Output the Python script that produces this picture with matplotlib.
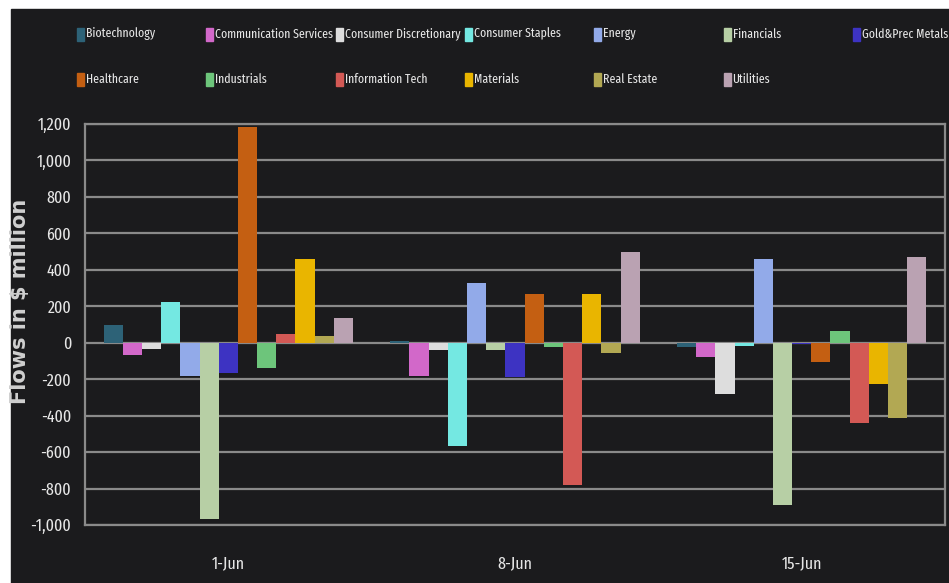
import matplotlib
matplotlib.use("Agg")
import matplotlib.pyplot as plt
import numpy as np
from matplotlib.patches import Rectangle
from matplotlib.ticker import FuncFormatter

# Weekly sector fund flows, $ million
weeks = ["1-Jun", "8-Jun", "15-Jun"]
sectors = ["Biotechnology", "Communication Services", "Consumer Discretionary",
           "Consumer Staples", "Energy", "Financials", "Gold&Prec Metals",
           "Healthcare", "Industrials", "Information Tech", "Materials",
           "Real Estate", "Utilities"]
colors = ["#2d6277", "#d268c9", "#dddddd", "#74e8e2", "#92aae9", "#b7cfa5",
          "#3d33c2", "#c45f12", "#6dc57b", "#d35955", "#e9b500", "#b2a853",
          "#baa2b2"]

biotech = [100, 8, -24]
comm_services = [-66, -181, -77]
cons_disc = [-33, -38, -279]
cons_staples = [224, -569, -16]
energy = [-183, 330, 461]
financials = [-969, -40, -889]
gold_prec = [-164, -190, -5]
healthcare = [1186, 268, -104]
industrials = [-137, -22, 66]
info_tech = [47, -783, -438]
materials = [461, 268, -226]
real_estate = [38, -59, -413]
utilities = [137, 498, 471]

series = [biotech, comm_services, cons_disc, cons_staples, energy, financials,
          gold_prec, healthcare, industrials, info_tech, materials,
          real_estate, utilities]

bg = "#1b1b1d"
grid_col = "#8a8a8a"
txt_col = "#e6e6e6"
narrow = ["Fira Sans Extra Condensed", "Liberation Sans Narrow", "Liberation Sans"]

fig = plt.figure(figsize=(9.49, 5.83), dpi=100, facecolor="white")
# dark panel (small white margin on the left and top)
fig.patches.append(Rectangle((11 / 949, 0), 1, 1 - 9 / 583,
                             transform=fig.transFigure, color=bg, zorder=-5))

ax = fig.add_axes([85 / 949, 1 - 525 / 583, (945 - 85) / 949, (525 - 124) / 583])
ax.set_facecolor(bg)

x = np.arange(len(weeks))
n = len(sectors)
group = 0.87
w = group / n
for i, vals in enumerate(series):
    ax.bar(x - group / 2 + w * (i + 0.5), vals, width=w, color=colors[i],
           zorder=3, linewidth=0)

ax.set_xlim(-0.5, len(weeks) - 0.5)
ax.set_ylim(-1000, 1200)
ax.set_yticks(np.arange(-1000, 1201, 200))
ax.yaxis.set_major_formatter(FuncFormatter(lambda v, p: f"{int(v):,}"))
ax.set_xticks(x)
ax.set_xticklabels(weeks)
ax.grid(axis="y", color=grid_col, linewidth=1.6, zorder=1)
for s in ax.spines.values():
    s.set_color(grid_col)
    s.set_linewidth(1.6)
ax.tick_params(length=0, colors=txt_col, labelsize=12.5)
ax.tick_params(axis="x", pad=22)
ax.tick_params(axis="y", pad=10)
for lab in ax.get_xticklabels() + ax.get_yticklabels():
    lab.set_family(narrow)

fig.text(20 / 949, 1 - 301 / 583, "Flows in $ million", rotation=90,
         ha="center", va="center", color="#d0d0d0", fontsize=15,
         fontweight="bold", family="DejaVu Sans")

# legend: 7 columns x 2 rows
col_x0, col_dx = 77, 129.3
row_y = [34, 79]
for i, name in enumerate(sectors):
    r, c = divmod(i, 7)
    lx = col_x0 + c * col_dx
    ly = row_y[r]
    fig.patches.append(Rectangle((lx / 949, 1 - (ly + 6.5) / 583), 7 / 949, 13 / 583,
                                 transform=fig.transFigure, color=colors[i], zorder=2))
    fig.text((lx + 9) / 949, 1 - ly / 583, name, ha="left", va="center",
             color=txt_col, fontsize=9.2, family=narrow)

fig.savefig("out.png", dpi=100, facecolor=fig.get_facecolor())
